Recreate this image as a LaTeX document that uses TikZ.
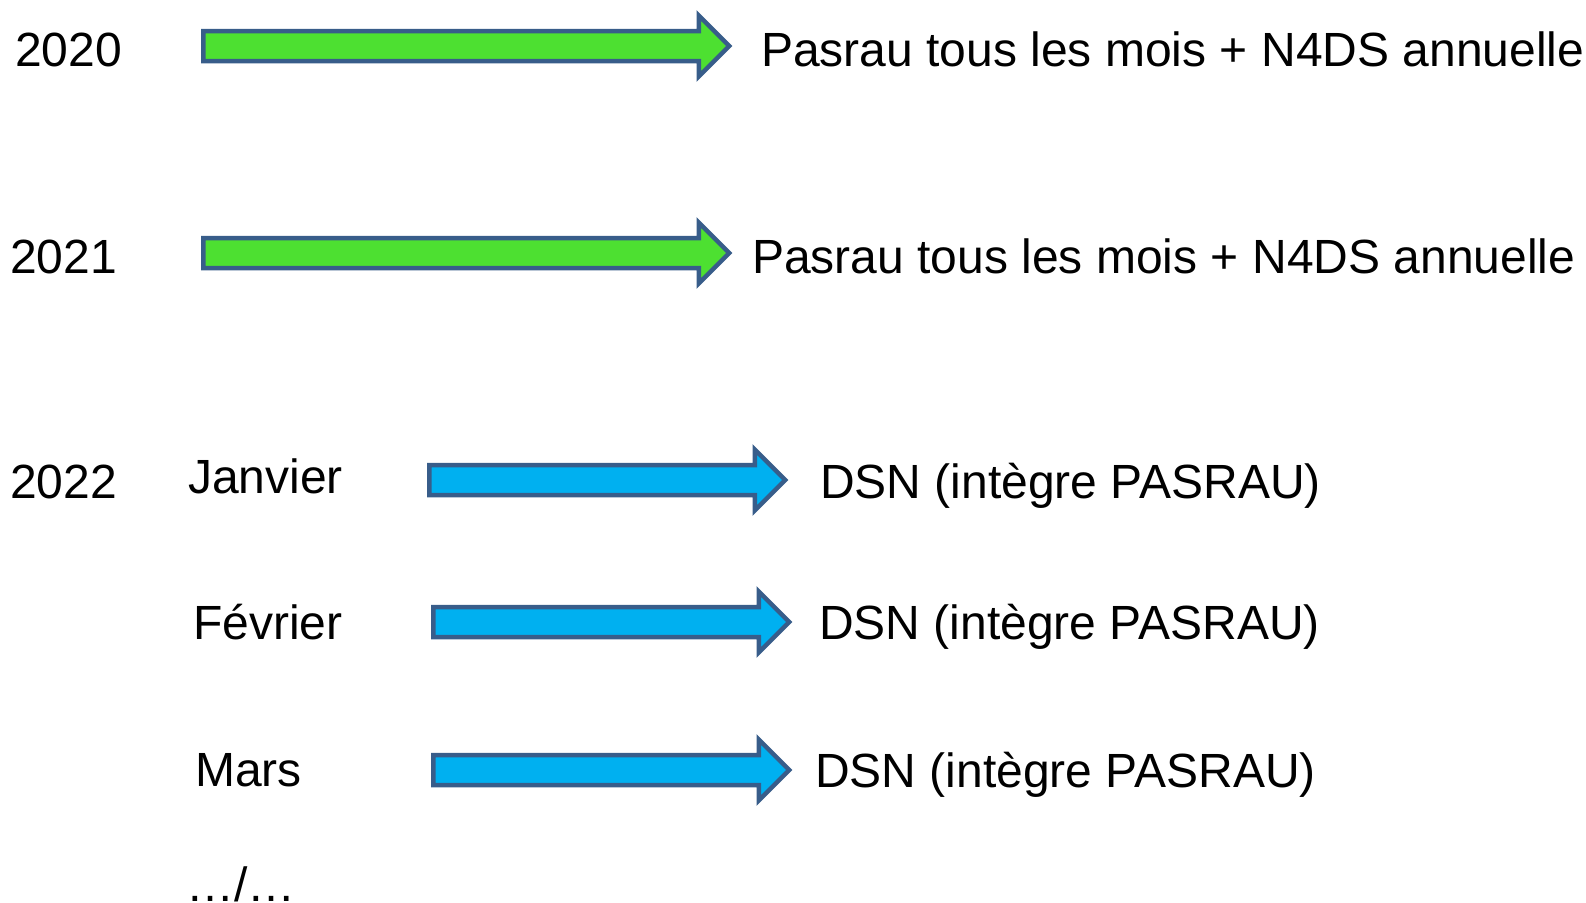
\documentclass[tikz,border=0pt]{standalone}
\usepackage{fontspec}
\setmainfont{Liberation Sans}
\usetikzlibrary{positioning,shapes,arrows}
\definecolor{arrowline}{HTML}{385D8A}
\definecolor{pasraugreen}{HTML}{4DE031}
\definecolor{dsnblue}{HTML}{00B0F0}
\tikzset{
  lbl/.style={anchor=base west,inner sep=0pt,font=\fontsize{48}{58}\selectfont},
  bigarrow/.style={single arrow,anchor=tail,draw=arrowline,line width=4.5pt,inner sep=0pt,inner ysep=12.75pt,
    single arrow head extend=15.5pt,single arrow tip angle=90,minimum width=56.5pt},
  greenarrow/.style={bigarrow,fill=pasraugreen,minimum height=526pt},
  bluearrow/.style={bigarrow,fill=dsnblue,minimum height=356pt}
}
\begin{document}
\begin{tikzpicture}[x=1pt,y=-1pt]
\useasboundingbox (0,0) rectangle (1586,902);
\fill (15,66) node[lbl] (Y2020) {2020};
\fill (10,273) node[lbl] (Y2021) {2021};
\fill (10,498) node[lbl] (Y2022) {2022};
%
\fill (188,493) node[lbl] (Jan) {Janvier};
\fill (193,639) node[lbl] (Fev) {Février};
\fill (195,786) node[lbl] (Mar) {Mars};
\fill (186,901) node[lbl] (Etc) {…/…};
%
\fill (201,46) node[greenarrow] (G1) {};
\fill (201,253) node[greenarrow] (G2) {};
\fill (427,480) node[bluearrow] (B1) {};
\fill (431,622) node[bluearrow] (B2) {};
\fill (431,770) node[bluearrow] (B3) {};
%
\fill (761,66) node[lbl] (P1) {Pasrau tous les mois + N4DS annuelle};
\fill (752,273) node[lbl] (P2) {Pasrau tous les mois + N4DS annuelle};
\fill (820,498) node[lbl] (D1) {DSN (intègre PASRAU)};
\fill (819,639) node[lbl] (D2) {DSN (intègre PASRAU)};
\fill (815,787) node[lbl] (D3) {DSN (intègre PASRAU)};
\end{tikzpicture}
\end{document}
